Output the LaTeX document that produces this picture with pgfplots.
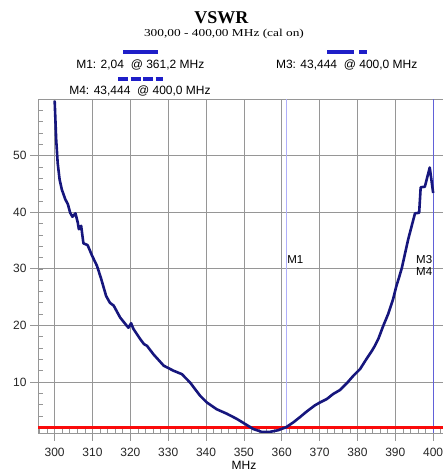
\documentclass[border=0pt]{standalone}
\usepackage{pgfplots}
\pgfplotsset{compat=1.18}
\usepackage{graphicx}
\usepackage{fontspec}
\setmainfont{Liberation Sans}
\newfontfamily\serifT{Liberation Serif}
\definecolor{curve}{RGB}{22,22,125}
\definecolor{mkblue}{RGB}{30,30,200}
\definecolor{mkline}{RGB}{175,175,250}
\definecolor{gridc}{RGB}{150,150,150}
\definecolor{redl}{RGB}{250,10,10}
\pgfplotstableread{
x y
300.0 59.7
300.4 52.9
300.8 48.7
301.3 45.8
301.9 44.0
302.8 42.3
303.5 41.4
304.1 39.9
304.7 39.2
305.5 39.8
306.1 38.2
306.4 37.0
307.0 37.6
307.6 34.5
308.7 34.2
309.9 32.3
311.2 30.5
312.3 28.2
313.6 25.2
314.6 24.0
315.6 23.5
317.3 21.4
319.1 19.9
319.5 19.6
320.2 20.4
320.8 19.4
322.6 17.6
323.6 16.7
324.4 16.4
326.1 14.9
328.8 12.9
331.4 12.0
333.6 11.4
335.8 9.9
338.4 7.6
340.2 6.4
342.8 5.2
345.5 4.4
348.1 3.5
350.8 2.4
352.5 1.7
354.7 1.2
356.9 1.2
359.1 1.5
361.2 2.04
363.1 2.9
364.8 3.8
366.6 4.8
368.8 5.9
370.1 6.4
371.9 7.0
373.6 7.9
375.4 8.6
377.2 9.8
378.9 11.1
380.7 12.3
382.4 14.1
383.8 15.5
384.6 16.4
385.5 17.6
386.8 19.9
388.1 22.0
389.4 24.6
390.3 27.0
391.0 28.5
391.7 30.1
393.4 35.2
395.2 39.8
396.3 39.9
396.7 44.4
397.8 44.5
399.1 47.9
400.0 43.4
}\vswr
\begin{document}
\begin{tikzpicture}[x=1pt,y=1pt]
\useasboundingbox (0,0) rectangle (443,473);
% titles
\node[font={\serifT\bfseries\fontsize{18}{20}\selectfont}, anchor=base] at (221.3,449) {VSWR};
\node[font={\serifT\fontsize{10.6}{12}\selectfont}, anchor=base] at (224,436.3) {\scalebox{1.26}[1]{300,00 - 400,00 MHz (cal on)}};
% marker legend
\draw[mkblue,line width=4pt] (123,420.7) -- (158,420.7);
\node[font=\fontsize{12}{14}\selectfont, anchor=base] at (140.3,404) {M1: 2,04\ \ @ 361,2 MHz};
\draw[mkblue,line width=4pt,dash pattern=on 10pt off 2.5pt] (118,393.7) -- (163,393.7);
\node[font=\fontsize{12}{14}\selectfont, anchor=base] at (140,378.7) {M4: 43,444\ \ @ 400,0 MHz};
\draw[mkblue,line width=4pt,dash pattern=on 27pt off 5pt on 8pt off 50pt] (327,420.7) -- (368,420.7);
\node[font=\fontsize{12}{14}\selectfont, anchor=base] at (346.7,404) {M3: 43,444\ \ @ 400,0 MHz};
\begin{axis}[
  at={(38pt,40pt)}, anchor=south west,
  scale only axis, width=405pt, height=334pt,
  xmin=295.6, xmax=402.6, ymin=1, ymax=60,
  xtick={300,310,...,400}, ytick={10,20,30,40,50},
  minor xtick={296,298,...,402}, minor ytick={2,4,...,58},
  grid=major, major grid style={gridc, line width=0.8pt},
  tick align=inside,
  major tick length=-8pt, minor tick length=5pt,
  major tick style={gridc, line width=0.8pt},
  minor tick style={gridc, line width=0.6pt},
  xtick pos=bottom, ytick pos=left,
  axis line style={gridc, line width=0.8pt},
  tick label style={font=\fontsize{12}{14}\selectfont, text=black!85},
  xticklabel style={yshift=-12pt},
  yticklabel style={xshift=-8pt},
  /pgf/number format/assume math mode=true,
  /pgf/number format/1000 sep={},
  xlabel={MHz}, xlabel style={font=\fontsize{12}{14}\selectfont, at={(axis description cs:0.5,0)}, anchor=north, xshift=3.5pt, yshift=-24.5pt},
  clip=true,
]
\addplot[mkline, line width=1pt] coordinates {(361.2,1) (361.2,60)};
\addplot[mkblue!70, line width=0.6pt] coordinates {(400,1) (400,60)};
\addplot[redl, line width=2.8pt] coordinates {(295.6,1.95) (402.6,1.95)};
\addplot[curve, line width=2.6pt, line join=round] table[x=x,y=y] {\vswr};
\node[font=\fontsize{11.5}{13}\selectfont, anchor=west, inner sep=0pt] at (axis cs:361.4,31.7) {M1};
\node[font=\fontsize{11.5}{13}\selectfont, anchor=east, inner sep=0pt] at (axis cs:399.8,31.7) {M3};
\node[font=\fontsize{11.5}{13}\selectfont, anchor=east, inner sep=0pt] at (axis cs:399.8,29.5) {M4};
\end{axis}
\end{tikzpicture}
\end{document}
